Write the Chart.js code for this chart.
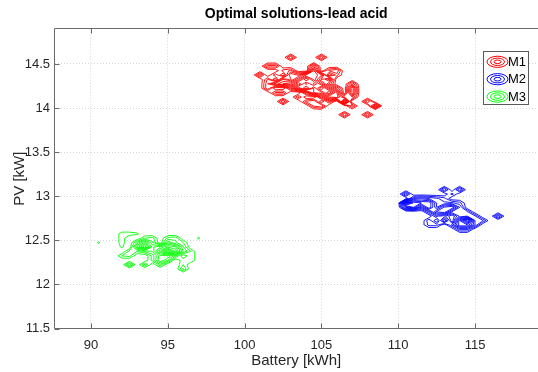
<!DOCTYPE html>
<html><head><meta charset="utf-8">
<script src="https://cdn.jsdelivr.net/npm/chart.js@4/dist/chart.umd.min.js"></script>
<style>html,body{margin:0;padding:0;background:#fff}#wrap{width:538px;height:372px}</style>
</head><body><div id="wrap"><canvas id="c" width="538" height="372"></canvas></div>
<script>
// ---- chart data ----
const seriesNames = ['M1', 'M2', 'M3'];
const seriesColors = ['#ff0000', '#0000ff', '#00ff00'];
const xTicks = [90, 95, 100, 105, 110, 115];
const yTicks = [11.5, 12, 12.5, 13, 13.5, 14, 14.5];
const contourLevels = [0.25, 0.5, 0.75, 1, 1.25, 1.5, 1.75, 2, 2.25, 2.5, 2.75];

// M1 : solution density (battery kWh, PV kW, weight)
const m1Battery = [103,105, 101.5,102,104.5, 102.5,103,104.5,105.5,106, 101,102,103,103.5,104,104.5,105,106,
  101.5,102.5,103,103.5,104,104.5,105,105.5, 101.5,102,102.5,103,103.5,104,104.5,105,105.5,107,
  101.5,103,103.5,104,104.5,105,105.5,106,107, 102,102.5,104,104.5,105,105.5,106,107,
  103.5,105,105.5,106,106.5,107, 102.5,104,104.5,105.5,106.5,108, 104.5,105,107,108.5, 106.5,108];
const m1PV = [14.575,14.575, 14.475,14.475,14.475, 14.425,14.425,14.425,14.425,14.425,
  14.375,14.375,14.375,14.375,14.375,14.375,14.375,14.375,
  14.325,14.325,14.325,14.325,14.325,14.325,14.325,14.325,
  14.275,14.275,14.275,14.275,14.275,14.275,14.275,14.275,14.275,14.275,
  14.225,14.225,14.225,14.225,14.225,14.225,14.225,14.225,14.225,
  14.175,14.175,14.175,14.175,14.175,14.175,14.175,14.175,
  14.125,14.125,14.125,14.125,14.125,14.125, 14.075,14.075,14.075,14.075,14.075,14.075,
  14.025,14.025,14.025,14.025, 13.925,13.925];
const m1Weight = [1,1, 0.9,0.9,1.2, 0.6,0.8,2,0.8,1, 1,0.7,1.5,1.2,2,2.2,1.8,0.6,
  0.8,1.5,1.2,2,3,2.2,1.2,1.8, 1,1.6,2,2.2,3,2.2,2.8,2,1,1,
  1,1,2,2.8,2,3,2,1,2, 0.8,0.8,1,2,2.2,3,2,2,
  0.8,1,2,2.2,1,1, 1,0.8,1,0.8,3,1, 0.8,1,0.8,1.6, 1,1];

// M2
const m2Battery = [113,114, 110.5,113.5, 111,111.5,112,112.5,113,
  110.5,111,111.5,112,112.5,113,113.5,114, 110.5,111,111.5,112,112.5,113,113.5,114,
  112,112.5,113,113.5,114,114.5, 112.5,113,114,114.5,115,116.5,
  112,113,114,114.5,115,115.5, 112,112.5,113.5,114,114.5,115, 114,114.5];
const m2PV = [13.075,13.075, 13.025,13.025, 12.975,12.975,12.975,12.975,12.975,
  12.925,12.925,12.925,12.925,12.925,12.925,12.925,12.925,
  12.875,12.875,12.875,12.875,12.875,12.875,12.875,12.875,
  12.825,12.825,12.825,12.825,12.825,12.825, 12.775,12.775,12.775,12.775,12.775,12.775,
  12.725,12.725,12.725,12.725,12.725,12.725, 12.675,12.675,12.675,12.675,12.675,12.675,
  12.625,12.625];
const m2Weight = [1,1, 1,0.6, 1,1.2,1,0.8,0.6,
  3,2.2,2,2,1,0.8,0.8,0.6, 1.5,2,1,2,1,1.8,2,1,
  0.8,1.8,2,1,1,0.8, 0.8,0.6,0.8,1,0.8,1,
  0.7,1.5,2,3,1,0.8, 0.6,0.6,0.8,2,2,1, 0.8,0.8];

// M3
const m3Battery = [92,92.5,93, 92,93.5,94,95,95.5,97, 90.5,92,93,93.5,94,95,95.5,96,
  92,93,93.5,94,94.5,95,95.5,96, 92.5,93,93.5,94,94.5,95,95.5,96,96.5,
  92,92.5,94,94.5,95,95.5,96.5, 94,94.5,95,96,96.5, 92.5,93.5,94.5,96, 96];
const m3PV = [12.575,12.575,12.575, 12.525,12.525,12.525,12.525,12.525,12.525,
  12.475,12.475,12.475,12.475,12.475,12.475,12.475,12.475,
  12.425,12.425,12.425,12.425,12.425,12.425,12.425,12.425,
  12.375,12.375,12.375,12.375,12.375,12.375,12.375,12.375,12.375,
  12.325,12.325,12.325,12.325,12.325,12.325,12.325,
  12.275,12.275,12.275,12.275,12.275, 12.225,12.225,12.225,12.225, 12.175];
const m3Weight = [0.4,0.4,0.3, 0.4,0.5,0.6,0.6,0.7,0.3, 0.3,0.4,0.8,1.6,0.8,1.2,0.8,0.5,
  0.3,1.5,2.5,1.2,1.5,2,1.8,0.8, 0.6,0.5,0.8,1,2.2,3,2.2,1,0.5,
  0.5,0.6,0.6,1.4,1.5,0.8,0.5, 0.6,1.5,1,0.4,0.5, 1,0.8,0.7,0.5, 0.8];

// ---- binning grid + contour tracing (marching squares) ----
const binW = 0.5, binH = 0.05;
function buildGrid(bx, py, w) {
  const minX = Math.min(...bx) - binW, minY = Math.min(...py) - binH;
  const nx = Math.round((Math.max(...bx) - minX) / binW) + 2;
  const ny = Math.round((Math.max(...py) - minY) / binH) + 2;
  const g = Array.from({length: ny}, () => new Array(nx).fill(0));
  for (let k = 0; k < bx.length; k++) {
    const i = Math.round((bx[k] - minX) / binW), j = Math.round((py[k] - minY) / binH);
    g[j][i] += w[k];
  }
  return {g, minX, minY, nx, ny};
}
function contourData(grid, levels) {
  const out = [];
  const {g, minX, minY, nx, ny} = grid;
  const X = i => minX + i * binW, Y = j => minY + j * binH;
  const seg = (p, q) => { out.push(p, q, {x: p.x, y: null}); };
  for (const L of levels) {
    for (let j = 0; j < ny - 1; j++) {
      for (let i = 0; i < nx - 1; i++) {
        const a = g[j][i], b = g[j][i + 1], c = g[j + 1][i + 1], d = g[j + 1][i];
        const A = a > L, B = b > L, C = c > L, D = d > L;
        if (A === B && B === C && C === D) continue;
        const t = (v1, v2) => (L - v1) / (v2 - v1);
        const bo = A !== B ? {x: X(i) + t(a, b) * binW, y: Y(j)} : null;
        const ri = B !== C ? {x: X(i + 1), y: Y(j) + t(b, c) * binH} : null;
        const to = D !== C ? {x: X(i) + t(d, c) * binW, y: Y(j + 1)} : null;
        const le = A !== D ? {x: X(i), y: Y(j) + t(a, d) * binH} : null;
        const pts = [bo, ri, to, le].filter(p => p);
        if (pts.length === 2) seg(pts[0], pts[1]);
        else if (pts.length === 4) {
          const centerHigh = (a + b + c + d) / 4 > L;
          if (A === centerHigh) { seg(bo, ri); seg(to, le); }
          else { seg(bo, le); seg(ri, to); }
        }
      }
    }
  }
  return out;
}

const seriesInputs = [
  [m1Battery, m1PV, m1Weight],
  [m2Battery, m2PV, m2Weight],
  [m3Battery, m3PV, m3Weight]
];
const datasets = seriesInputs.map((s, k) => ({
  label: seriesNames[k],
  data: contourData(buildGrid(s[0], s[1], s[2]), contourLevels),
  showLine: true, spanGaps: false,
  borderColor: seriesColors[k], borderWidth: 0.9,
  pointRadius: 0, pointHoverRadius: 0, fill: false
}));

const FONT = '"Liberation Sans", Arial, Helvetica, sans-serif';
const AX = '#6a6a6a';
const decor = {
  id: 'decor',
  beforeDraw(chart) {
    const c = chart.ctx; c.save(); c.fillStyle = '#fff'; c.fillRect(0, 0, chart.width, chart.height); c.restore();
  },
  afterDraw(chart) {
    const c = chart.ctx, a = chart.chartArea, xs = chart.scales.x, ys = chart.scales.y;
    c.save();
    const L = Math.floor(a.left) + 0.5, T = Math.floor(a.top) + 0.5, Bt = Math.floor(a.bottom) + 0.5, R = Math.floor(a.right) + 0.5;
    c.strokeStyle = AX; c.lineWidth = 1;
    c.beginPath();
    c.moveTo(L, T); c.lineTo(R + 2, T);
    c.moveTo(L, T); c.lineTo(L, Bt); c.lineTo(R + 2, Bt);
    xTicks.forEach(v => { const p = Math.round(xs.getPixelForValue(v)) + 0.5; c.moveTo(p, Bt); c.lineTo(p, Bt - 5); c.moveTo(p, T); c.lineTo(p, T + 5); });
    yTicks.forEach(v => { const p = Math.round(ys.getPixelForValue(v)) + 0.5; c.moveTo(L, p); c.lineTo(L + 5, p); });
    c.stroke();
    // title and axis labels
    const cx = (a.left + a.right) / 2, cy = (a.top + a.bottom) / 2;
    c.fillStyle = '#000'; c.textAlign = 'center'; c.textBaseline = 'alphabetic';
    c.font = 'bold 14px ' + FONT;
    c.fillText('Optimal solutions-lead acid', cx, 17.5);
    c.fillStyle = '#262626';
    c.font = '15px ' + FONT;
    c.fillText('Battery [kWh]', cx, 365);
    c.save(); c.translate(24, cy); c.rotate(-Math.PI / 2); c.fillText('PV [kW]', 0, 0); c.restore();
    // legend
    const lx = 483.5, ly = 51.5, lw = 45, lh = 53;
    c.fillStyle = '#fff'; c.fillRect(lx, ly, lw, lh);
    c.strokeStyle = '#5a5a5a'; c.strokeRect(lx, ly, lw, lh);
    const rows = [61.8, 79.2, 96.6];
    seriesNames.forEach((n, k) => {
      const ey = rows[k], ex = 497.5;
      c.strokeStyle = seriesColors[k]; c.lineWidth = 1;
      [[10.5, 5.6], [7, 3.7], [3.5, 1.8]].forEach(r => { c.beginPath(); c.ellipse(ex, ey, r[0], r[1], 0, 0, Math.PI * 2); c.stroke(); });
      c.fillStyle = '#000'; c.font = '13px ' + FONT; c.textAlign = 'left'; c.textBaseline = 'middle';
      c.fillText(n, 508, ey + 0.5);
    });
    c.restore();
  }
};

new Chart(document.getElementById('c').getContext('2d'), {
  type: 'scatter',
  data: {datasets},
  options: {
    responsive: false, animation: false, devicePixelRatio: 1,
    layout: {padding: {top: 28.7, right: 0, bottom: 0, left: 0}},
    plugins: {legend: {display: false}, title: {display: false}, tooltip: {enabled: false}},
    events: [],
    scales: {
      x: {
        type: 'linear', min: 87.624, max: 119.1,
        afterBuildTicks: s => { s.ticks = xTicks.map(v => ({value: v})); },
        afterFit: s => { s.height = 43.4; },
        grid: {color: 'rgba(0,0,0,0.16)', lineWidth: 1, drawTicks: false},
        border: {display: false, dash: [1, 2]},
        ticks: {padding: 8.6, color: '#262626', font: {family: FONT, size: 13}, maxRotation: 0, callback: v => String(v)}
      },
      y: {
        type: 'linear', min: 11.5, max: 14.9,
        afterBuildTicks: s => { s.ticks = yTicks.map(v => ({value: v})); },
        afterFit: s => { s.width = 54.5; },
        grid: {color: 'rgba(0,0,0,0.16)', lineWidth: 1, drawTicks: false},
        border: {display: false, dash: [1, 2]},
        ticks: {padding: 4.5, color: '#262626', font: {family: FONT, size: 13}, callback: v => String(v)}
      }
    }
  },
  plugins: [decor]
});
</script></body></html>
